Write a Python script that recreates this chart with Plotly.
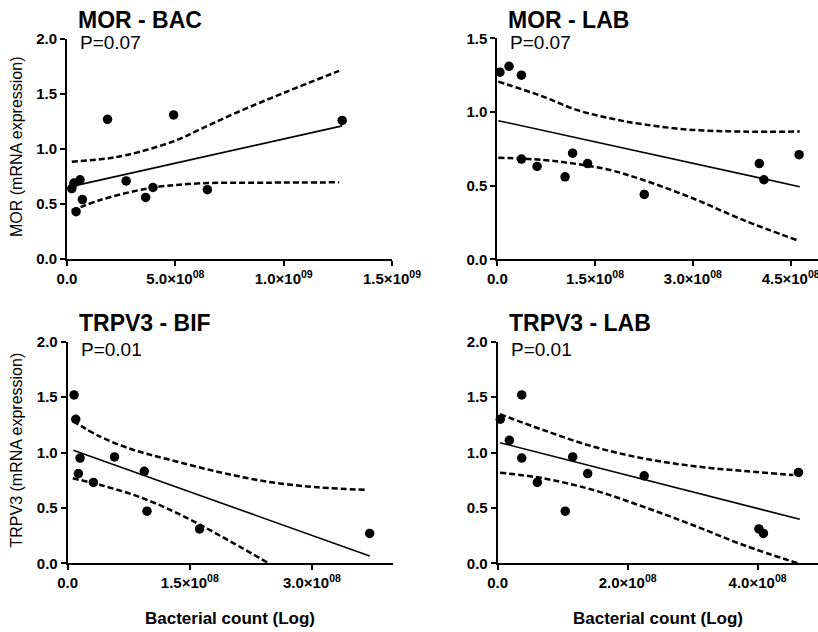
import plotly.graph_objects as go

W, H = 818, 632

# ---------------- data ----------------
# Panel 1: MOR vs BAC
bac_count = [2.2e7, 3.2e7, 6.0e7, 7.1e7, 4.2e7, 1.87e8, 2.73e8, 3.63e8, 3.97e8, 4.92e8, 6.48e8, 1.27e9]
mor_bac = [0.64, 0.69, 0.72, 0.54, 0.43, 1.27, 0.71, 0.56, 0.65, 1.31, 0.63, 1.26]
bac_fit_x = [2.2e7, 1.27e9]
bac_fit_y = [0.66, 1.21]
bac_up_x = [2.2e7, 1.53e8, 2.76e8, 4.92e8, 6.16e8, 7.7e8, 1.0e9, 1.256e9]
bac_up_y = [0.885, 0.906, 0.945, 1.07, 1.18, 1.32, 1.51, 1.71]
bac_lo_x = [2.2e7, 1.53e8, 3.84e8, 6.16e8, 9.25e8, 1.256e9]
bac_lo_y = [0.44, 0.536, 0.645, 0.688, 0.694, 0.697]

# Panel 2: MOR vs LAB
lab_count = [4.0e6, 1.8e7, 3.7e7, 3.7e7, 6.1e7, 1.04e8, 1.155e8, 1.385e8, 2.255e8, 4.02e8, 4.09e8, 4.63e8]
mor_lab = [1.27, 1.31, 1.25, 0.68, 0.63, 0.56, 0.72, 0.65, 0.44, 0.65, 0.54, 0.71]
lab_mor_fit_x = [1.5e6, 4.64e8]
lab_mor_fit_y = [0.941, 0.493]
lab_mor_up_x = [1.5e6, 7.05e7, 1.217e8, 1.73e8, 2.24e8, 3.0e8, 3.77e8, 4.64e8]
lab_mor_up_y = [1.206, 1.104, 1.014, 0.957, 0.916, 0.878, 0.867, 0.867]
lab_mor_lo_x = [1.5e6, 7.05e7, 1.217e8, 1.73e8, 2.24e8, 3.0e8, 3.77e8, 4.59e8]
lab_mor_lo_y = [0.690, 0.674, 0.647, 0.606, 0.538, 0.414, 0.267, 0.131]

# Panel 3: TRPV3 vs BIF
bif_count = [7.8e6, 9.9e6, 1.52e7, 1.31e7, 3.16e7, 5.75e7, 9.41e7, 9.74e7, 1.62e8, 3.71e8]
trpv3_bif = [1.52, 1.30, 0.95, 0.81, 0.73, 0.96, 0.83, 0.47, 0.31, 0.27]
bif_fit_x = [6.9e6, 3.71e8]
bif_fit_y = [1.02, 0.066]
bif_up_x = [6.2e6, 4.0e7, 8.1e7, 1.22e8, 1.84e8, 2.45e8, 3.07e8, 3.68e8]
bif_up_y = [1.285, 1.143, 1.023, 0.941, 0.827, 0.737, 0.686, 0.662]
bif_lo_x = [6.2e6, 4.0e7, 8.1e7, 1.22e8, 1.63e8, 2.04e8, 2.47e8]
bif_lo_y = [0.767, 0.707, 0.617, 0.496, 0.346, 0.180, 0.0]

# Panel 4: TRPV3 vs LAB
trpv3_lab = [1.30, 1.11, 1.52, 0.95, 0.73, 0.47, 0.96, 0.81, 0.79, 0.31, 0.27, 0.82]
lab_trp_fit_x = [3.6e6, 4.65e8]
lab_trp_fit_y = [1.088, 0.397]
lab_trp_up_x = [3.6e6, 7.0e7, 1.47e8, 2.24e8, 3.0e8, 3.78e8, 4.55e8]
lab_trp_up_y = [1.345, 1.203, 1.053, 0.947, 0.878, 0.833, 0.797]
lab_trp_lo_x = [3.6e6, 7.0e7, 1.47e8, 2.24e8, 3.0e8, 3.78e8, 4.62e8]
lab_trp_lo_y = [0.818, 0.767, 0.662, 0.511, 0.346, 0.165, 0.0]

titles = ["MOR - BAC", "MOR - LAB", "TRPV3 - BIF", "TRPV3 - LAB"]
pvals = ["P=0.07", "P=0.07", "P=0.01", "P=0.01"]
y_titles = ["MOR (mRNA expression)", "TRPV3 (mRNA expression)"]
x_title = "Bacterial count (Log)"

x_ticks = [
    ([0, 5e8, 1e9, 1.5e9], ["0.0", "5.0×10<sup>08</sup>", "1.0×10<sup>09</sup>", "1.5×10<sup>09</sup>"]),
    ([0, 1.5e8, 3e8, 4.5e8], ["0.0", "1.5×10<sup>08</sup>", "3.0×10<sup>08</sup>", "4.5×10<sup>08</sup>"]),
    ([0, 1.5e8, 3e8], ["0.0", "1.5×10<sup>08</sup>", "3.0×10<sup>08</sup>"]),
    ([0, 2e8, 4e8], ["0.0", "2.0×10<sup>08</sup>", "4.0×10<sup>08</sup>"]),
]
y_ticks = [
    [0.0, 0.5, 1.0, 1.5, 2.0],
    [0.0, 0.5, 1.0, 1.5],
    [0.0, 0.5, 1.0, 1.5, 2.0],
    [0.0, 0.5, 1.0, 1.5, 2.0],
]
x_ranges = [[0, 1.5e9], [0, 4.92e8], [0, 4.0e8], [0, 4.93e8]]
y_ranges = [[0, 2.0], [0, 1.5], [0, 2.0], [0, 2.0]]

# pixel geometry of each panel: (x0, x1, ybottom, ytop)
panels_px = [
    (67, 392, 259, 39),
    (497.3, 818, 259.3, 38.3),
    (67.7, 393.3, 563.3, 341.7),
    (497.7, 818, 563.3, 341.7),
]
# pixel centres of the title and P-value caps
title_cy = [20.5, 20.5, 322.5, 322.5]
p_cy = [42.5, 42.5, 349.5, 349.5]


def fx(px):
    return px / W


def fy(py):
    return 1 - py / H


panel_data = [
    (bac_count, mor_bac, bac_fit_x, bac_fit_y, bac_up_x, bac_up_y, bac_lo_x, bac_lo_y),
    (lab_count, mor_lab, lab_mor_fit_x, lab_mor_fit_y, lab_mor_up_x, lab_mor_up_y, lab_mor_lo_x, lab_mor_lo_y),
    (bif_count, trpv3_bif, bif_fit_x, bif_fit_y, bif_up_x, bif_up_y, bif_lo_x, bif_lo_y),
    (lab_count, trpv3_lab, lab_trp_fit_x, lab_trp_fit_y, lab_trp_up_x, lab_trp_up_y, lab_trp_lo_x, lab_trp_lo_y),
]

FONT = "Liberation Sans, Arial, sans-serif"

fig = go.Figure()
layout = dict(
    width=W, height=H,
    margin=dict(l=0, r=0, t=0, b=0, autoexpand=False),
    paper_bgcolor="white", plot_bgcolor="white",
    showlegend=False,
    hovermode=False,
    font=dict(family=FONT, color="black"),
)
annotations = []

for i, (px, d) in enumerate(zip(panels_px, panel_data)):
    x0, x1, yb, yt = px
    xs, ys, fxs, fys, ux, uy, lx, ly = d
    n = "" if i == 0 else str(i + 1)
    xa, ya = "x" + n, "y" + n
    common = dict(
        showline=True, linecolor="black", linewidth=2,
        ticks="outside", ticklen=5, tickwidth=2, tickcolor="black",
        showgrid=False, zeroline=False, automargin=False,
        ticklabeloverflow="allow",
        tickfont=dict(family=FONT, size=15, color="black", weight="bold"),
    )
    layout["xaxis" + n] = dict(
        domain=[max(0, fx(x0)), min(1, fx(x1))], range=x_ranges[i], anchor=ya,
        tickmode="array", tickvals=x_ticks[i][0], ticktext=x_ticks[i][1],
        **common,
    )
    layout["yaxis" + n] = dict(
        domain=[fy(yb), fy(yt)], range=y_ranges[i], anchor=xa,
        tickmode="array", tickvals=y_ticks[i], ticktext=[f"{v:.1f}" for v in y_ticks[i]],
        **common,
    )
    for bx, by in ((ux, uy), (lx, ly)):
        fig.add_trace(go.Scatter(
            x=bx, y=by, mode="lines", xaxis=xa, yaxis=ya,
            line=dict(color="black", width=2.5, dash="6px,3px", shape="spline"),
        ))
    fig.add_trace(go.Scatter(
        x=fxs, y=fys, mode="lines", xaxis=xa, yaxis=ya,
        line=dict(color="black", width=1.6),
    ))
    fig.add_trace(go.Scatter(
        x=xs, y=ys, mode="markers", xaxis=xa, yaxis=ya,
        marker=dict(color="black", size=9.5, line=dict(width=0)),
        cliponaxis=False,
    ))
    # title and P-value
    tx = x0 + 10
    annotations.append(dict(
        text="<b>" + titles[i] + "</b>", xref="paper", yref="paper",
        x=fx(tx - 1), y=fy(title_cy[i]), xanchor="left", yanchor="middle",
        showarrow=False, font=dict(family=FONT, size=23, color="black"),
    ))
    annotations.append(dict(
        text=pvals[i], xref="paper", yref="paper",
        x=fx(tx + 1), y=fy(p_cy[i]), xanchor="left", yanchor="middle",
        showarrow=False, font=dict(family=FONT, size=19, color="black"),
    ))

# y-axis titles
for j, (yb, yt) in enumerate([(259, 39), (563.3, 341.7)]):
    annotations.append(dict(
        text=y_titles[j], xref="paper", yref="paper",
        x=fx(16), y=fy((yb + yt) / 2 - 2), xanchor="center", yanchor="middle",
        textangle=-90, showarrow=False, font=dict(family=FONT, size=16, color="black"),
    ))
# x-axis titles
for (x0, x1) in [(67.7, 393.3), (497.7, 818)]:
    annotations.append(dict(
        text="<b>" + x_title + "</b>", xref="paper", yref="paper",
        x=fx((x0 + x1) / 2), y=fy(618), xanchor="center", yanchor="middle",
        showarrow=False, font=dict(family=FONT, size=17, color="black"),
    ))

layout["annotations"] = annotations
fig.update_layout(**layout)
fig.write_html(
    "out.html",
    config={"displayModeBar": False, "staticPlot": True},
    post_script="document.body.style.margin='0px';document.body.style.overflow='hidden';",
)
